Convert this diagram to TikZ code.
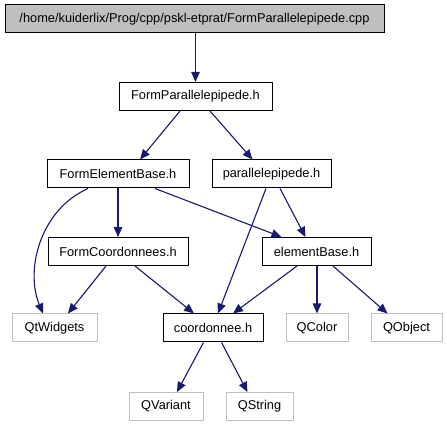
\documentclass[tikz,border=0pt]{standalone}
\usepackage{fontspec}
\setmainfont{Liberation Sans}
\usetikzlibrary{arrows.meta}
\definecolor{edgeblue}{HTML}{191970}
\definecolor{sysgray}{HTML}{BFBFBF}
\tikzset{
  hbox/.style={draw=black, line width=1pt, minimum height=28pt, inner sep=0pt, font=\fontsize{12.8pt}{14pt}\selectfont},
  sysbox/.style={hbox, draw=sysgray},
  rootbox/.style={hbox, fill=sysgray},
  dep/.style={draw=edgeblue, line width=1.1pt, -{Triangle[length=10pt,width=8.5pt]}, edgeblue},
}
\begin{document}
\begin{tikzpicture}[x=1pt,y=-1pt]
\useasboundingbox (0,0) rectangle (447,427);
\node[rootbox, minimum width=379pt] (root) at (194.5,19) {/home/kuiderlix/Prog/cpp/pskl-etprat/FormParallelepipede.cpp};
\node[hbox, minimum width=153pt] (fph) at (195.5,96.5) {FormParallelepipede.h};
\node[hbox, minimum width=142pt] (feb) at (118,174) {FormElementBase.h};
\node[hbox, minimum width=119pt] (para) at (271.5,174) {parallelepipede.h};
\node[hbox, minimum width=140pt] (fc) at (118,251.5) {FormCoordonnees.h};
\node[hbox, minimum width=109pt] (eb) at (316.5,251.5) {elementBase.h};
\node[sysbox, minimum width=85pt] (qtw) at (54.5,328) {QtWidgets};
\node[hbox, minimum width=100pt] (coord) at (213,328) {coordonnee.h};
\node[sysbox, minimum width=62pt] (qcolor) at (317,328) {QColor};
\node[sysbox, minimum width=71pt] (qobject) at (406.5,328) {QObject};
\node[sysbox, minimum width=74pt] (qvariant) at (166,406.5) {QVariant};
\node[sysbox, minimum width=67pt] (qstring) at (259.5,406.5) {QString};

\draw[dep] (root.south -| fph.north) -- (fph.north);
\draw[dep] ([xshift=-15.5pt]fph.south) -- ([xshift=22pt]feb.north);
\draw[dep] ([xshift=14.5pt]fph.south) -- ([xshift=-19pt]para.north);
\draw[dep] ([xshift=-30pt]feb.south) .. controls (40,210) and (25,270) .. ([xshift=-11.5pt]qtw.north);
\draw[dep] (feb.south) -- (fc.north);
\draw[dep] ([xshift=37pt]feb.south) -- ([xshift=-35pt]eb.north);
\draw[dep] ([xshift=-5.5pt]para.south) -- ([xshift=5pt]coord.north);
\draw[dep] ([xshift=8.5pt]para.south) -- ([xshift=-11pt]eb.north);
\draw[dep] ([xshift=-12pt]fc.south) -- ([xshift=13.5pt]qtw.north);
\draw[dep] ([xshift=17pt]fc.south) -- ([xshift=-19pt]coord.north);
\draw[dep] ([xshift=-19.5pt]eb.south) -- ([xshift=20pt]coord.north);
\draw[dep] (eb.south -| qcolor.north) -- (qcolor.north);
\draw[dep] ([xshift=16.5pt]eb.south) -- ([xshift=-19pt]qobject.north);
\draw[dep] ([xshift=-9.5pt]coord.south) -- ([xshift=11pt]qvariant.north);
\draw[dep] ([xshift=8.5pt]coord.south) -- ([xshift=-12pt]qstring.north);
\end{tikzpicture}
\end{document}
